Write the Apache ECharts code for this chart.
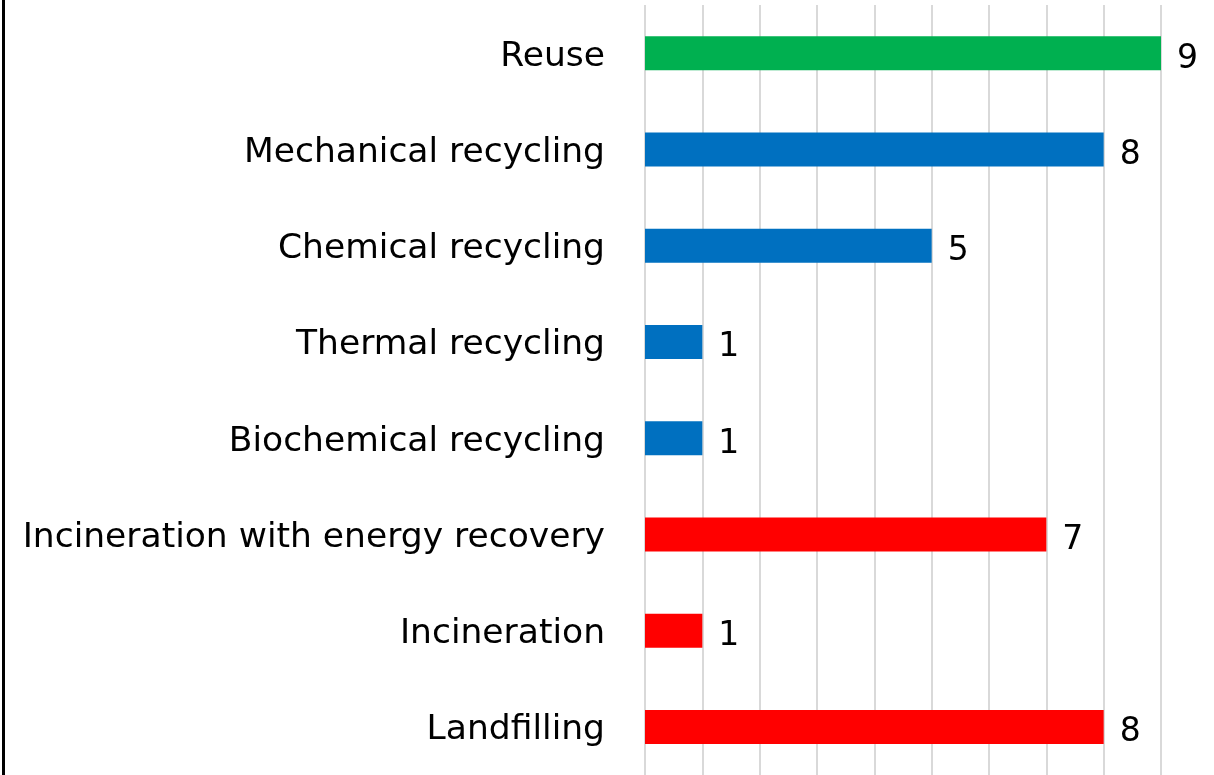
<!DOCTYPE html>
<html><head><meta charset="utf-8">
<script src="https://cdn.jsdelivr.net/npm/echarts@6/dist/echarts.min.js"></script>
<style>html,body{margin:0;padding:0;background:#fff}#c{width:1214px;height:775px}</style>
</head><body><div id="c"></div>
<script>
const categories = ["Reuse","Mechanical recycling","Chemical recycling","Thermal recycling","Biochemical recycling","Incineration with energy recovery","Incineration","Landfilling"];
const values = [9,8,5,1,1,7,1,8];
const barColors = ["#00B050","#0070C0","#0070C0","#0070C0","#0070C0","#FF0000","#FF0000","#FF0000"];
const FONT = "DejaVu Sans";
const chart = echarts.init(document.getElementById('c'));
chart.setOption({
  animation:false,
  backgroundColor:'#fff',
  grid:{left:645,right:53,top:5,bottom:-6,containLabel:false},
  xAxis:{type:'value',min:0,max:9,interval:1,
    axisLabel:{show:false},axisLine:{show:false},axisTick:{show:false},
    splitLine:{show:true,lineStyle:{color:'#D9D9D9',width:2}}},
  yAxis:{type:'category',inverse:true,data:categories,
    axisLine:{show:false},axisTick:{show:false},
    axisLabel:{color:'#000',fontFamily:FONT,fontSize:34.5,margin:40,verticalAlign:'top',lineHeight:7}},
  series:[{type:'bar',barWidth:34,
    data:values.map((v,i)=>({value:v,itemStyle:{color:barColors[i]}})),
    label:{show:true,position:'right',distance:16,offset:[0,6],color:'#000',fontFamily:FONT,fontSize:33}}],
  graphic:[{type:'rect',left:2,top:0,shape:{width:3,height:775},style:{fill:'#000'}}]
});
</script></body></html>
